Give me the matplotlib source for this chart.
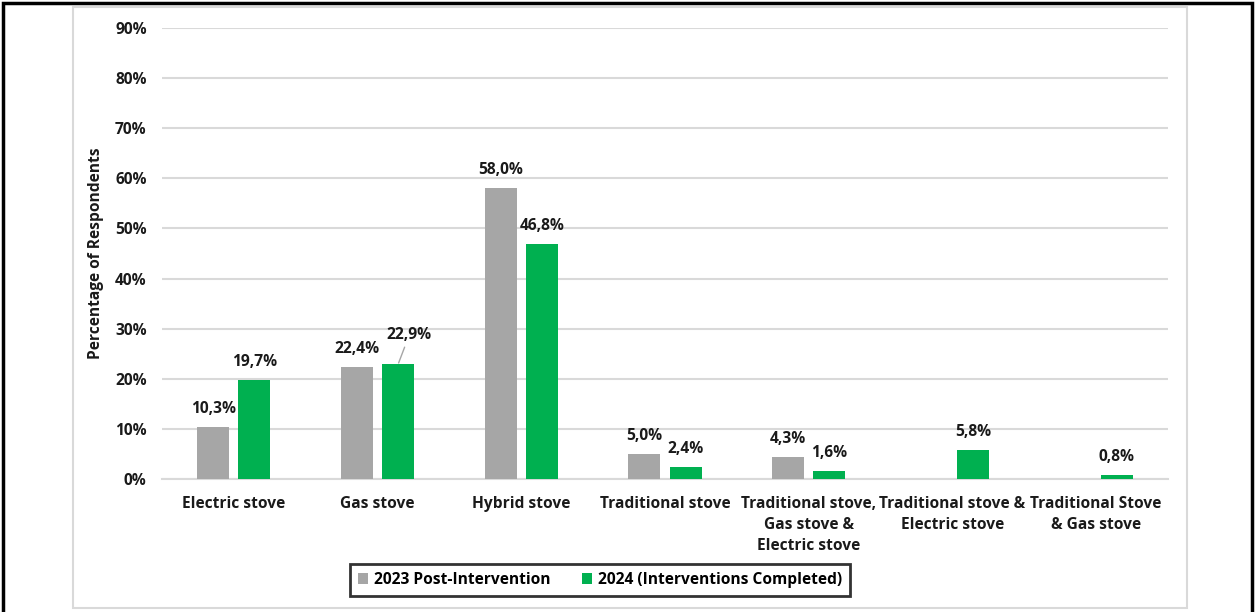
import matplotlib
matplotlib.use("Agg")
import matplotlib.pyplot as plt
import numpy as np
from matplotlib.patches import Rectangle
from matplotlib.ticker import FuncFormatter, MultipleLocator

plt.rcParams['font.family'] = ['Open Sans', 'DejaVu Sans']
plt.rcParams['font.weight'] = 'bold'

categories = [
    "Electric stove",
    "Gas stove",
    "Hybrid stove",
    "Traditional stove",
    "Traditional stove,\nGas stove &\nElectric stove",
    "Traditional stove &\nElectric stove",
    "Traditional Stove\n& Gas stove",
]
series_names = ["2023 Post-Intervention", "2024 (Interventions Completed)"]
values_2023 = [10.3, 22.4, 58.0, 5.0, 4.3, None, None]
values_2024 = [19.7, 22.9, 46.8, 2.4, 1.6, 5.8, 0.8]

GREY = "#a6a6a6"
GREEN = "#00b050"
GRID = "#d9d9d9"
TXT = "#1a1a1a"
FS = 11.2

fig = plt.figure(figsize=(12.56, 6.12), dpi=100)
W, H = 1256, 612

# outer frame and inner chart-area frame
fig.patches.append(Rectangle((3 / W, -0.05), 1249 / W, 1.05 - 3 / H,
                             transform=fig.transFigure, fill=False,
                             edgecolor="black", linewidth=2.5, zorder=0))
fig.patches.append(Rectangle((73 / W, 4 / H), 1114 / W, 1 - 11 / H,
                             transform=fig.transFigure, fill=False,
                             edgecolor=GRID, linewidth=1.5, zorder=0))

ax = fig.add_axes([162 / W, 1 - 479 / H, 1006 / W, 451 / H])

x = np.arange(len(categories))
bw = 0.223
off = 0.143


def fmt(v):
    return f"{v:.1f}".replace(".", ",") + "%"


for vals, color, dx, name in [(values_2023, GREY, -off, series_names[0]),
                              (values_2024, GREEN, off, series_names[1])]:
    xs = [xi + dx for xi, v in zip(x, vals) if v is not None]
    hs = [v / 100 for v in vals if v is not None]
    ax.bar(xs, hs, width=bw, color=color, label=name, zorder=3)
    for xi, h in zip(xs, hs):
        if abs(h - 0.229) < 1e-9:
            ax.annotate(fmt(h * 100), xy=(xi, h), xytext=(8, 21),
                        textcoords="offset points", ha="center", va="center",
                        fontsize=FS, fontweight="bold", color=TXT,
                        arrowprops=dict(arrowstyle="-", color=GREY, lw=1,
                                        shrinkA=1, shrinkB=1), zorder=4)
        else:
            ax.annotate(fmt(h * 100), xy=(xi, h), xytext=(0, 13),
                        textcoords="offset points", ha="center", va="center",
                        fontsize=FS, fontweight="bold", color=TXT,
                        zorder=4)

ax.set_xlim(-0.5, len(categories) - 0.5)
ax.set_ylim(0, 0.9)
ax.yaxis.set_major_locator(MultipleLocator(0.1))
ax.yaxis.set_major_formatter(FuncFormatter(lambda v, p: f"{v * 100:.0f}%"))
ax.grid(axis="y", color=GRID, linewidth=1.5, zorder=0)
ax.set_axisbelow(True)
for s in ["top", "right", "left"]:
    ax.spines[s].set_visible(False)
ax.spines["bottom"].set_color(GRID)
ax.spines["bottom"].set_linewidth(1.5)
ax.tick_params(axis="both", length=0, labelsize=FS, colors=TXT)
ax.tick_params(axis="y", pad=11)
ax.tick_params(axis="x", pad=12)
ax.set_xticks(x)
ax.set_xticklabels(categories, linespacing=1.45, fontweight="bold")
for lbl in ax.get_yticklabels():
    lbl.set_fontweight("bold")

ax.set_ylabel("Percentage of Respondents", fontsize=FS, fontweight="bold",
              color=TXT)
ax.yaxis.set_label_coords(-58 / 1006, 0.5)

leg = fig.legend(loc="center", bbox_to_anchor=(600 / W, 1 - 580 / H),
                 ncol=2, frameon=True, fancybox=False,
                 handlelength=0.65, handleheight=0.65, handletextpad=0.4,
                 columnspacing=2.0, borderpad=0.5,
                 prop={"weight": "bold", "size": FS})
leg.get_frame().set_edgecolor("black")
leg.get_frame().set_linewidth(2.0)

fig.savefig("out.png", dpi=100)
